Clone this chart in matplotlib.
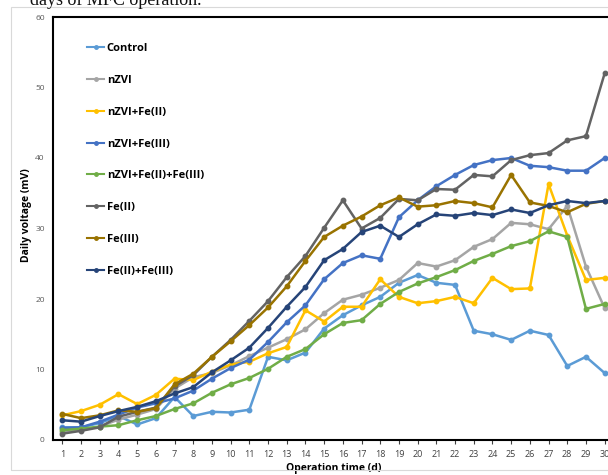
import matplotlib
matplotlib.use("Agg")
import matplotlib.pyplot as plt
from matplotlib.patches import Rectangle

days = list(range(1, 31))
x_ticklabels = [str(d) for d in days]
y_ticks = [0, 10, 20, 30, 40, 50, 60]

control = [1.8, 1.8, 2.4, 3.4, 2.2, 3.1, 6.1, 3.4, 4.0, 3.9, 4.3, 11.8, 11.3, 12.4, 15.8,
           17.7, 19.1, 20.3, 22.3, 23.4, 22.3, 22.0, 15.5, 15.0, 14.2, 15.5, 14.9, 10.5, 11.8, 9.5]
nzvi = [1.2, 1.4, 1.9, 2.9, 3.6, 4.4, 7.3, 8.9, 9.5, 10.6, 11.9, 13.1, 14.3, 15.7, 18.0,
        19.9, 20.6, 21.6, 22.7, 25.1, 24.6, 25.5, 27.4, 28.5, 30.8, 30.6, 29.9, 33.2, 24.6, 18.7]
nzvi_fe2 = [3.5, 4.1, 5.0, 6.5, 5.1, 6.4, 8.7, 8.5, 9.7, 10.7, 11.1, 12.3, 13.2, 18.4, 16.8,
            18.9, 18.9, 22.8, 20.3, 19.4, 19.7, 20.3, 19.4, 23.0, 21.4, 21.5, 36.3, 29.0, 22.7, 23.0]
nzvi_fe3 = [1.7, 1.8, 2.6, 3.6, 4.6, 5.2, 5.9, 7.0, 8.7, 10.2, 11.4, 13.9, 16.7, 19.1, 22.8,
            25.1, 26.2, 25.7, 31.6, 34.0, 36.0, 37.6, 39.0, 39.7, 40.0, 38.9, 38.7, 38.2, 38.2, 40.0]
nzvi_fe2_fe3 = [1.4, 1.6, 1.9, 2.1, 2.8, 3.4, 4.4, 5.2, 6.7, 7.9, 8.8, 10.1, 11.8, 12.9, 15.0,
                16.6, 17.0, 19.3, 21.0, 22.2, 23.1, 24.1, 25.4, 26.4, 27.5, 28.2, 29.6, 28.8, 18.6, 19.3]
fe2 = [0.9, 1.3, 1.8, 3.3, 4.0, 4.6, 7.6, 9.2, 11.8, 14.2, 16.9, 19.7, 23.1, 26.1, 30.1,
       34.0, 30.0, 31.5, 34.2, 34.0, 35.6, 35.5, 37.6, 37.4, 39.7, 40.4, 40.7, 42.5, 43.1, 52.0]
fe3 = [3.7, 3.1, 3.5, 4.2, 4.0, 4.5, 7.9, 9.4, 11.8, 14.0, 16.3, 18.8, 21.8, 25.4, 28.8,
       30.4, 31.7, 33.3, 34.4, 33.1, 33.3, 33.9, 33.6, 33.0, 37.6, 33.7, 33.2, 32.3, 33.5, 33.9]
fe2_fe3 = [2.8, 2.6, 3.4, 4.1, 4.7, 5.5, 6.6, 7.5, 9.6, 11.3, 13.1, 15.9, 18.9, 21.7, 25.5,
           27.1, 29.5, 30.4, 28.8, 30.6, 32.0, 31.8, 32.2, 31.9, 32.7, 32.2, 33.3, 33.9, 33.6, 33.9]

series = [
    ("Control", control, "#5B9BD5"),
    ("nZVI", nzvi, "#A5A5A5"),
    ("nZVI+Fe(II)", nzvi_fe2, "#FFC000"),
    ("nZVI+Fe(III)", nzvi_fe3, "#4472C4"),
    ("nZVI+Fe(II)+Fe(III)", nzvi_fe2_fe3, "#70AD47"),
    ("Fe(II)", fe2, "#636363"),
    ("Fe(III)", fe3, "#997300"),
    ("Fe(II)+Fe(III)", fe2_fe3, "#264478"),
]

plt.rcParams['font.family'] = ['Open Sans', 'DejaVu Sans']

fig = plt.figure(figsize=(6.08, 4.75), dpi=100)
fig.patches.append(Rectangle((11/608, 5/475), 1.0, 1 - 12/475, transform=fig.transFigure,
                             fill=False, edgecolor="#D9D9D9", linewidth=0.8))
fig.text(30/608, 1 - 5/475, "days of MFC operation.", family="Liberation Serif",
         fontsize=13, va="baseline", ha="left", color="#111111")

ax = fig.add_axes([53/608, 35/475, 561/608, 423/475])
for name, vals, col in series:
    ax.plot(days, vals, color=col, linewidth=1.8, marker='o', markersize=3.2,
            label=name, zorder=3)

ax.set_xlim(0.5, 30.5)
ax.set_ylim(0, 60)
ax.set_xticks(days)
ax.set_xticklabels(x_ticklabels)
ax.set_yticks(y_ticks)
ax.tick_params(axis='x', direction='out', length=3, width=0.8, labelsize=6.5,
               colors='#404040', pad=4)
ax.tick_params(axis='y', direction='out', length=0, labelsize=6, colors='#595959', pad=6)
for sp in ax.spines.values():
    sp.set_linewidth(1.5)
    sp.set_color('black')

ax.set_xlabel("Operation time (d)", fontsize=7.5, fontweight='bold', labelpad=3)
ax.set_ylabel("Daily voltage (mV)", fontsize=7.5, fontweight='bold')
ax.yaxis.set_label_coords(-0.037, 0.532)

leg = ax.legend(loc='upper left', bbox_to_anchor=(0.06, 0.938), frameon=False,
                prop={'size': 8, 'weight': 'bold'}, labelspacing=1.87,
                handlelength=1.6, handletextpad=0.2, borderpad=0, borderaxespad=0)
for line in leg.get_lines():
    line.set_markersize(2.5)
    line.set_linewidth(1.5)

fig.savefig("out.png", dpi=100)
